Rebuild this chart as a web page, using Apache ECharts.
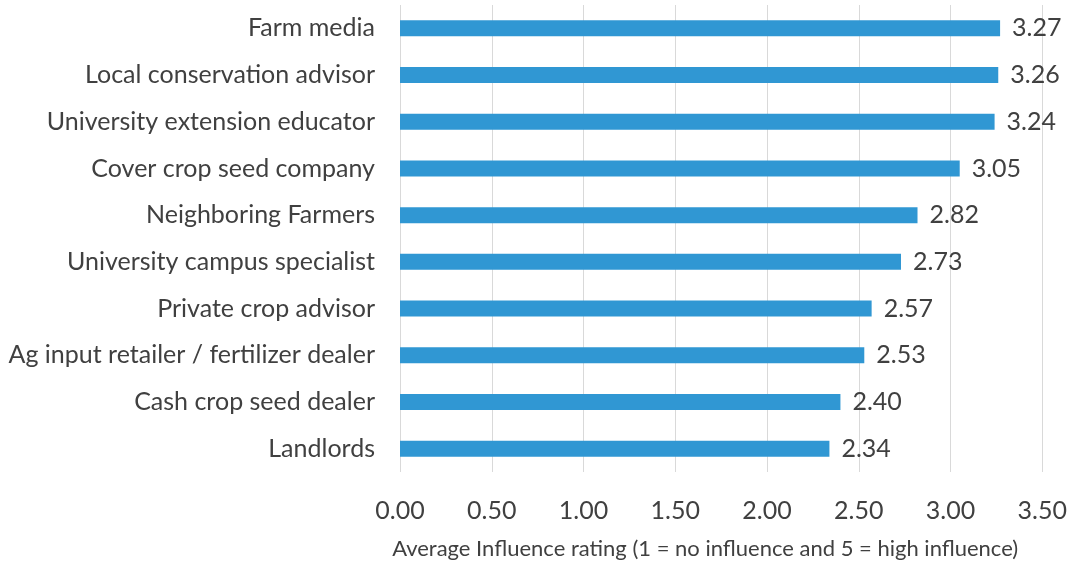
<!DOCTYPE html>
<html><head><meta charset="utf-8">
<script src="https://cdn.jsdelivr.net/npm/echarts@6/dist/echarts.min.js"></script>
<style>html,body{margin:0;padding:0;background:#fff}#c{width:1070px;height:565px}</style>
</head><body><div id="c"></div>
<script>
const categories = ["Farm media","Local conservation advisor","University extension educator","Cover crop seed company","Neighboring Farmers","University campus specialist","Private crop advisor","Ag input retailer / fertilizer dealer","Cash crop seed dealer","Landlords"];
const values = [3.27,3.26,3.24,3.05,2.82,2.73,2.57,2.53,2.40,2.34];
const xAxisName = "Average Influence rating (1 = no influence and 5 = high influence)";
const FONT = "Lato, 'Open Sans', sans-serif";
const TXT = "#404040";
const chart = echarts.init(document.getElementById('c'));
chart.setOption({
  animation:false,
  grid:{left:400,right:27,top:5,bottom:88,containLabel:false},
  xAxis:{type:'value',min:0,max:3.5,interval:0.5,
    axisLine:{show:false},axisTick:{show:false},
    splitLine:{lineStyle:{color:'#d9d9d9',width:1}},
    axisLabel:{formatter:v=>v.toFixed(2),fontFamily:FONT,fontSize:25,color:TXT,margin:26},
    name:xAxisName,nameLocation:'middle',nameGap:66,
    nameTextStyle:{fontFamily:FONT,fontSize:22,color:TXT,padding:[0,32,0,0]}
  },
  yAxis:{type:'category',data:categories,inverse:true,
    axisLine:{show:false},axisTick:{show:false},
    axisLabel:{fontFamily:FONT,fontSize:25,color:TXT,margin:25,padding:[0,0,6,0]}
  },
  series:[{type:'bar',data:values,barWidth:16,
    itemStyle:{color:'#3097D3'},
    label:{show:true,position:'right',distance:12,padding:[0,0,6,0],formatter:p=>p.value.toFixed(2),fontFamily:FONT,fontSize:25,color:TXT}
  }]
});
</script></body></html>
